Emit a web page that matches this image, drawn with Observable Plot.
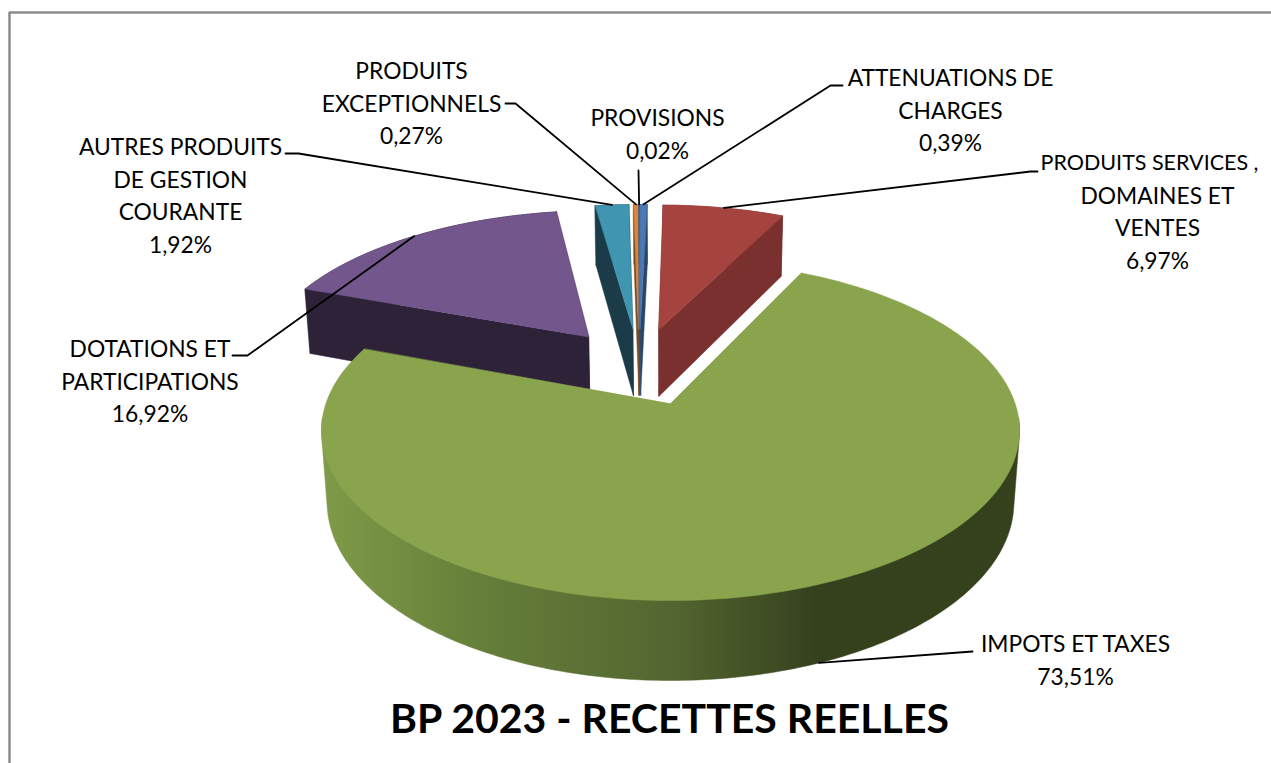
<!DOCTYPE html>
<html><head><meta charset="utf-8">
<script src="https://cdn.jsdelivr.net/npm/d3@7"></script>
<script src="https://cdn.jsdelivr.net/npm/@observablehq/plot@0.6"></script>
<style>html,body{margin:0;padding:0;background:#fff}svg{display:block}</style>
</head><body><div id="chart"></div>
<script>
// Data, in clockwise order starting from the large slice
const categories = ["IMPOTS ET TAXES","DOTATIONS ET\nPARTICIPATIONS","AUTRES PRODUITS\nDE GESTION\nCOURANTE","PRODUITS\nEXCEPTIONNELS","PROVISIONS","ATTENUATIONS DE\nCHARGES","PRODUITS SERVICES ,\nDOMAINES ET\nVENTES"];
const shares = [73.51,16.92,1.92,0.27,0.02,0.39,6.97];
const topColors = ["#89a44d","#73568c","#4095b0","#dd8438","#6f8fc0","#4a7ab5","#a5433f"];
const sideColors = ["url(#rimGreen)","#2d2238","#1a3b47","#7a4a20","#3a4a60","#2a4565","#7a302e"];
const title = "BP 2023 - RECETTES REELLES";

// Layout of the labels (first line centre) and of the leader-line elbows
const labelX = [1075,149.5,180,411,657,950,1157];
const labelY = [644,349,147,71,118,78,163];
const lineStep = 32.8;
const elbowA = [[972,651],[232,355],[285,153],[505,103],[638,170],[842,85],[1037,171]];
const elbowB = [[972,651],[247,355],[298,153],[515,103],[638,170],[830,85],[1030,171]];

// 3D pie camera
const startAngle = 25.7, explode = 0.252, radius = 344.6, depthScale = 165.7, perspective = 0.159, thickness = 71.7, sink = 0.016;
const apexX = 670, apexY = 403;
const rad = Math.PI / 180;
function project(u, v, z) {
  const w = 1 - perspective * v + sink * z;
  return [apexX + radius * u / w, apexY + (depthScale * v + thickness * z) / w];
}
let acc = startAngle;
const slices = shares.map((s, i) => {
  const a0 = acc, a1 = acc + s * 3.6; acc = a1;
  return {i, a0, a1, mid: (a0 + a1) / 2};
});
const g = slices[0];
const dir = a => [Math.sin(a * rad), -Math.cos(a * rad)];
const centre = dir(g.mid).map(d => -explode * d);
function apexOf(s) { const d = dir(s.mid); return [centre[0] + explode * d[0], centre[1] + explode * d[1]]; }
function rimPt(s, a, z) { const c = apexOf(s), d = dir(a); return project(c[0] + d[0], c[1] + d[1], z); }
function arc(s, z) { const n = Math.max(2, Math.ceil((s.a1 - s.a0) / 1.5)); return d3.range(n + 1).map(k => rimPt(s, s.a0 + (s.a1 - s.a0) * k / n, z)); }
function face(pts, fill) { return Plot.line(pts, {x: d => d[0], y: d => d[1], fill, stroke: fill, strokeWidth: 0.5, curve: "linear-closed"}); }

function sliceMarks(s) {
  const c = apexOf(s), top0 = project(c[0], c[1], 0), bot0 = project(c[0], c[1], 1);
  const side = sideColors[s.i];
  if (s.i === 0) {
    // the front of the large slice: hull of its near half, from tangent to tangent
    const near = {a0: 95, a1: 265};
    const hull = d3.polygonHull([...arcRange(s, near, 0), ...arcRange(s, near, 1)]);
    return [face(hull, side), face([top0, ...arc(s, 0)], topColors[s.i])];
  }
  return [
    face([top0, bot0, rimPt(s, s.a0, 1), rimPt(s, s.a0, 0)], side),
    face([top0, bot0, rimPt(s, s.a1, 1), rimPt(s, s.a1, 0)], side),
    face([...arc(s, 0), ...arc(s, 1).reverse()], side),
    face([top0, ...arc(s, 0)], topColors[s.i])
  ];
}
function arcRange(s, r, z) { return d3.range(r.a0, r.a1 + 1, 1).map(a => rimPt(s, a, z)); }
const paintOrder = [1, 2, 3, 4, 5, 6, 0];

const leaders = slices.flatMap((s, i) => {
  const end = rimPt(s, s.mid, i === 0 ? 1 : 0);
  return [elbowA[i], elbowB[i], end].map(p => ({i, x: p[0], y: p[1]}));
});
const labelRows = slices.flatMap((s, i) => {
  const lines = (categories[i] + "\n" + shares[i].toFixed(2).replace(".", ",") + "%").split("\n");
  return lines.map((text, k) => {
    // the long first line of the last label sits left of its block and is set tighter
    const long = text.length > 18;
    return {x: long ? labelX[i] - 8 : labelX[i], y: labelY[i] + k * lineStep, text, size: long ? 21.5 : 22.8};
  });
});

const defs = () => {
  const d = d3.create("svg:defs");
  const lg = d.append("linearGradient").attr("id", "rimGreen").attr("gradientUnits", "userSpaceOnUse")
    .attr("x1", 322).attr("x2", 1020).attr("y1", 0).attr("y2", 0);
  [[0, "#7f9a48"], [0.22, "#667f3a"], [0.5, "#536630"], [0.71, "#35401d"], [1, "#35401d"]]
    .forEach(([o, c]) => lg.append("stop").attr("offset", o).attr("stop-color", c));
  return d.node();
};

const chart = Plot.plot({
  width: 1271, height: 763, margin: 0,
  x: {domain: [0, 1271], range: [0, 1271], axis: null},
  y: {domain: [0, 763], range: [0, 763], axis: null},
  style: {background: "#fff", fontFamily: "Lato, 'Open Sans', sans-serif"},
  marks: [
    defs,
    Plot.ruleX([9], {y1: 12, y2: 763, stroke: "#8c8c8c", strokeWidth: 2.5}),
    Plot.ruleY([12], {x1: 9, x2: 1271, stroke: "#8c8c8c", strokeWidth: 2.5}),
    ...paintOrder.flatMap(i => sliceMarks(slices[i])),
    Plot.line(leaders, {x: "x", y: "y", z: "i", stroke: "#000", strokeWidth: 1.8}),
    ...[21.5, 22.8].map(size => Plot.text(labelRows.filter(d => d.size === size), {x: "x", y: "y", text: "text", fontSize: size, fill: "#000", textAnchor: "middle", lineAnchor: "middle"})),
    Plot.text([title], {x: () => 669, y: () => 719, text: d => d, fontSize: 41, fontWeight: 700, fill: "#000", textAnchor: "middle", lineAnchor: "middle"})
  ]
});
document.getElementById("chart").appendChild(chart);
</script></body></html>
